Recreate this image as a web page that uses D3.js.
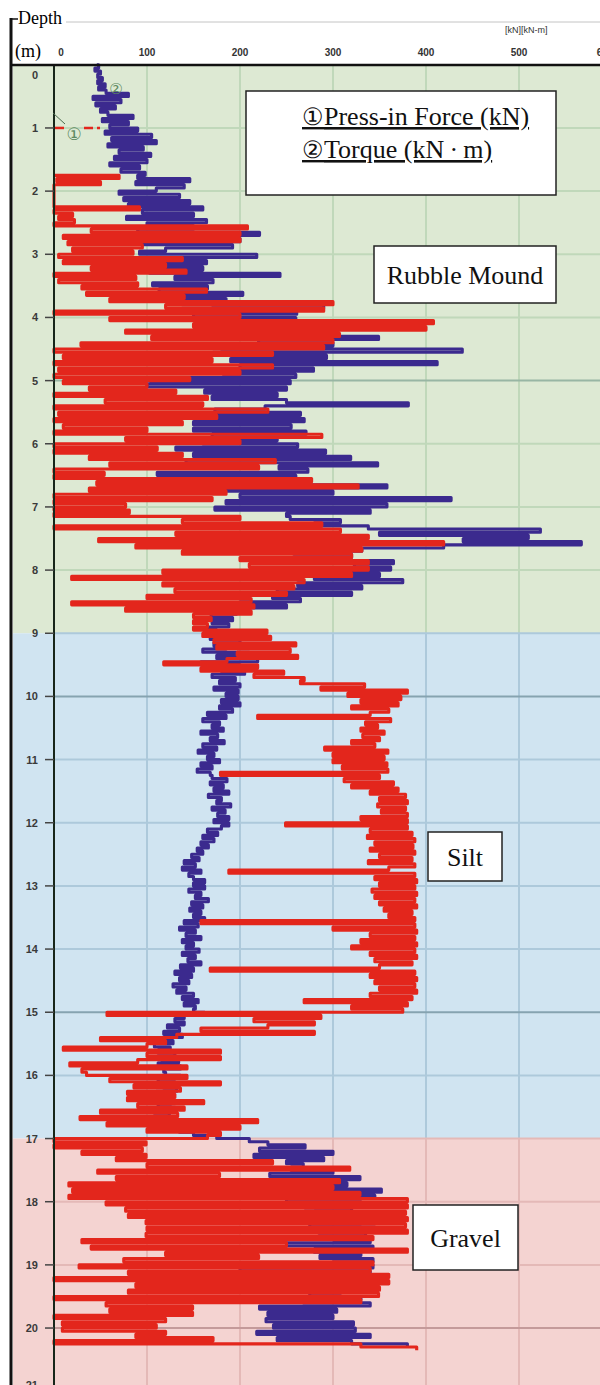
<!DOCTYPE html>
<html>
<head>
<meta charset="utf-8">
<script src="https://cdn.jsdelivr.net/npm/d3@7"></script>
<style>
body{margin:0;background:#fff}
svg text{font-family:"Liberation Serif","Times New Roman",serif}
</style>
</head>
<body>
<div id="chart"></div>
<script>
var width = 600
var height = 1385

// depth sampling of the logger traces (m)
var depthStep = 0.05
var torqueStart = 0
var forceStart = 1.75

// (2) torque, kN*m, one row per metre
var torque = [
 46,48,44,50,47,52,47,55,48,56,80,42,72,45,66,50,58,85,52,80,
 60,90,55,105,62,110,58,96,70,104,65,100,60,92,72,98,90,146,88,140,
 110,70,135,75,146,80,160,95,150,78,164,100,150,90,221,110,200,95,192,120,
 92,218,120,164,100,160,103,243,130,171,106,165,113,203,140,185,138,290,170,261,
 150,260,333,210,300,230,290,349,220,300,180,439,171,293,190,412,200,279,182,260,
 103,254,100,250,162,240,170,250,381,227,173,265,142,269,150,255,150,271,170,240,
 160,262,131,292,150,319,142,348,242,273,111,260,150,265,358,185,300,200,427,185,
 358,173,340,250,254,308,280,338,523,350,510,440,567,419,331,258,320,270,365,323,
 362,273,350,280,375,262,331,240,320,235,265,200,250,205,196,169,192,170,188,165,
 175,195,168,200,172,185,160,210,175,219,158,200,180,205,170,195,178,200,172,198,
 185,198,180,200,178,192,165,185,160,178,170,182,158,176,168,183,160,175,155,172,
 165,178,158,170,154,168,170,186,168,182,172,188,166,180,175,190,170,184,176,188,
 172,188,180,165,176,160,172,158,166,154,160,148,156,140,152,138,158,145,150,162,
 150,162,145,158,152,166,148,160,146,158,150,162,140,155,135,152,142,158,138,150,
 142,156,138,152,144,158,136,150,130,148,135,145,128,142,132,150,138,155,140,152,
 150,162,140,130,140,122,135,118,138,120,128,108,125,112,130,115,134,112,136,118,
 120,136,112,130,118,132,110,128,115,130,112,126,108,124,112,122,129,140,135,150,
 175,210,230,270,221,300,215,290,250,268,255,300,232,329,240,315,272,352,280,345,
 250,330,270,320,280,340,290,330,275,345,285,335,300,340,250,343,280,330,286,343,
 300,343,200,340,215,335,280,310,261,308,275,330,268,340,221,304,230,300,228,322,
 236,324,218,340,240,320,380
]

// (1) press-in force, kN, starts at 1.75 m
var force = [
 0,70,3,50,0,
 0,0,0,0,0,0,92,0,20,5,22,0,208,40,200,10,200,15,95,20,
 85,5,138,10,120,40,142,0,88,5,90,30,164,35,140,60,300,120,290,0,
 200,60,408,150,400,77,307,105,300,29,290,0,235,10,170,0,235,5,200,0,
 146,10,100,38,131,0,165,55,160,0,230,5,175,0,138,10,100,0,288,77,
 200,0,111,0,138,38,238,60,220,0,54,0,277,46,327,38,185,0,170,0,
 77,0,81,0,200,138,288,0,308,131,338,48,419,88,331,138,320,200,338,210,
 338,117,320,19,269,117,258,130,250,100,212,19,215,77,212,150,169,150,165,150,
 229,160,233,172,260,175,254,197,262,186,118,219,158,247,215,269,265,334,287,380,
 316,373,330,370,320,360,340,219,362,335,348,330,355,332,350,320,345,291,359,300,
 355,300,358,310,359,179,350,312,365,320,370,340,378,350,380,348,378,352,380,330,
 380,249,380,340,385,337,388,345,386,340,388,350,385,338,388,360,188,388,345,390,
 350,388,342,390,345,388,350,390,355,385,360,388,158,388,300,390,340,388,330,390,
 320,388,340,390,345,385,350,168,388,340,390,345,388,350,390,340,385,269,380,320,
 375,57,287,215,280,230,158,280,132,50,120,100,10,179,100,179,90,17,143,30,
 35,143,60,179,86,136,79,130,79,161,90,140,50,133,28,219,57,200,100,179,
 165,0,99,0,95,30,99,67,235,100,318,47,178,67,307,16,300,20,329,16,
 380,56,380,77,378,80,380,99,378,100,380,99,343,30,250,40,380,120,220,75,
 343,27,340,80,360,0,360,88,350,80,349,0,330,56,149,60,149,0,120,9,
 110,9,120,88,171,0,330,390
]

var layerNames = ["Rubble Mound","Silt","Gravel"]
var layerTops = [0,9,17]
var layerBottoms = [9,17,21]
var xTicks = [0,100,200,300,400,500,600]
var depthTicks = [0,1,2,3,4,5,6,7,8,9,10,11,12,13,14,15,16,17,18,19,20,21]

var bandFill = ["#dde9d3","#d0e4f1","#f4d3d1"]
var gridColor = ["#c0d8ba","#adc9db","#e4b9b7"]
var majorColor = ["#98b6a4","#86a3b0","#c49a9a"]

var left = 13, axisX = 54

var x = d3.scaleLinear().domain([0,600]).range([axisX,612])
var y = d3.scaleLinear().domain([0,21]).range([64.8,1391.2])

var svg = d3.select("#chart").append("svg")
.attr("width",width)
.attr("height",height)

// soil layers
layerNames.forEach(function(name,i){
  var top = Math.max(y(layerTops[i]),65)
  var bot = y(layerBottoms[i])
  svg.append("rect")
  .attr("x",left).attr("y",top)
  .attr("width",width-left).attr("height",bot-top)
  .attr("fill",bandFill[i])
  // vertical grid inside this layer
  svg.selectAll(null)
  .data(xTicks.slice(1))
  .enter().append("line")
  .attr("x1",d=>x(d)).attr("x2",d=>x(d))
  .attr("y1",top).attr("y2",bot)
  .attr("stroke",gridColor[i]).attr("stroke-width",2)
})

function layerOf(d){
  if(d<9) return 0
  if(d<17) return 1
  return 2
}

svg.selectAll(".hgrid")
.data(depthTicks.filter(d=>d>0))
.enter().append("line")
.attr("class","hgrid")
.attr("x1",axisX).attr("x2",width)
.attr("y1",d=>y(d)).attr("y2",d=>y(d))
.attr("stroke",d=>d%5==0 ? majorColor[layerOf(d-0.01)] : gridColor[layerOf(d)])
.attr("stroke-width",2)

// traces
var line = d3.line()
.x(d=>x(d[0]))
.y(d=>y(d[1]))
.curve(d3.curveStepAfter)

var torquePts = torque.map((v,i)=>[v, torqueStart + i*depthStep])
var forcePts = force.map((v,i)=>[v, forceStart + i*depthStep])

svg.append("path")
.attr("d",line(torquePts))
.attr("fill","none")
.attr("stroke","#3b2a8e")
.attr("stroke-width",3.1)
.attr("stroke-linejoin","round")

svg.append("path")
.attr("d",line(forcePts))
.attr("fill","none")
.attr("stroke","#e3261c")
.attr("stroke-width",3.1)
.attr("stroke-linejoin","round")

// depth axis
svg.append("line")
.attr("x1",axisX).attr("x2",axisX)
.attr("y1",65).attr("y2",height)
.attr("stroke","#17261a").attr("stroke-width",2)

svg.selectAll(".tick")
.data(depthTicks.filter(d=>d>0))
.enter().append("line")
.attr("x1",45).attr("x2",axisX)
.attr("y1",d=>y(d)).attr("y2",d=>y(d))
.attr("stroke","#444").attr("stroke-width",1.5)

svg.selectAll(".dlab")
.data(depthTicks)
.enter().append("text")
.attr("x",38)
.attr("y",d=>d==0 ? 79 : Math.min(y(d)+4,1389))
.attr("text-anchor","end")
.style("font-family","'Liberation Sans',Arial,sans-serif")
.style("font-weight","bold")
.style("font-size","11px")
.attr("fill","#3a3a3a")
.text(d=>d)

// value labels on top
svg.selectAll(".xlab")
.data(xTicks)
.enter().append("text")
.attr("x",d=>d==0 ? 61 : Math.min(x(d),605))
.attr("y",56)
.attr("text-anchor","middle")
.style("font-family","'Liberation Sans',Arial,sans-serif")
.style("font-weight","bold")
.style("font-size","10px")
.attr("fill","#333")
.text(d=>d)

svg.append("text")
.attr("x",505).attr("y",33)
.style("font-family","'Liberation Sans',Arial,sans-serif")
.style("font-size","9px")
.attr("fill","#333")
.text("[kN][kN-m]")

svg.append("text").attr("x",18).attr("y",24)
.style("font-size","18px").text("Depth")
svg.append("text").attr("x",15).attr("y",57)
.style("font-size","18px").text("(m)")

// frame
svg.append("line").attr("x1",66).attr("x2",width).attr("y1",22).attr("y2",22)
.attr("stroke","#c4c4c4").attr("stroke-width",1)
svg.append("line").attr("x1",10).attr("x2",width).attr("y1",65).attr("y2",65)
.attr("stroke","#111").attr("stroke-width",2.5)
svg.append("line").attr("x1",11).attr("x2",11).attr("y1",18).attr("y2",height)
.attr("stroke","#111").attr("stroke-width",3)
svg.append("line").attr("x1",10).attr("x2",18).attr("y1",19).attr("y2",19)
.attr("stroke","#111").attr("stroke-width",1.5)

// trace markers
svg.append("line").attr("x1",axisX+1).attr("x2",66).attr("y1",y(1)).attr("y2",y(1))
.attr("stroke","#e3261c").attr("stroke-width",2.5).attr("stroke-dasharray","9,3")
svg.append("line").attr("x1",84).attr("x2",100).attr("y1",y(1)).attr("y2",y(1))
.attr("stroke","#e3261c").attr("stroke-width",2.5).attr("stroke-dasharray","9,4")
svg.append("line").attr("x1",53).attr("x2",65).attr("y1",113).attr("y2",124)
.attr("stroke","#4b6b4f").attr("stroke-width",1)
svg.append("text").attr("x",74).attr("y",140).attr("text-anchor","middle")
.style("font-family","'DejaVu Sans',sans-serif").style("font-size","17px")
.attr("fill","#5f8a62").text("①")
svg.append("text").attr("x",116).attr("y",94).attr("text-anchor","middle")
.style("font-family","'DejaVu Sans',sans-serif").style("font-size","15px")
.attr("fill","#5f8a62").text("②")

// legend box
svg.append("rect").attr("x",246).attr("y",91).attr("width",310).attr("height",104)
.attr("fill","#fff").attr("stroke","#222").attr("stroke-width",1.5)

var leg1 = svg.append("text").attr("x",302).attr("y",125)
.style("font-size","26px").style("text-decoration","underline").attr("fill","#111")
leg1.append("tspan").style("font-size","24px").text("①")
leg1.append("tspan").text("Press-in Force (kN)")

var leg2 = svg.append("text").attr("x",302).attr("y",158)
.style("font-size","26px").style("text-decoration","underline").attr("fill","#111")
leg2.append("tspan").style("font-size","24px").text("②")
leg2.append("tspan").text("Torque (kN\u2009·\u2009m)")

// layer labels
var boxes = [
 {x:374,y:246,w:182,h:57},
 {x:428,y:832,w:74,h:49},
 {x:413,y:1205,w:105,h:65}
]
layerNames.forEach(function(name,i){
  var b = boxes[i]
  svg.append("rect").attr("x",b.x).attr("y",b.y).attr("width",b.w).attr("height",b.h)
  .attr("fill","#fff").attr("stroke","#222").attr("stroke-width",1.5)
  svg.append("text").attr("x",b.x+b.w/2).attr("y",b.y+b.h/2+9)
  .attr("text-anchor","middle")
  .style("font-size","26px").attr("fill","#111").text(name)
})
</script>
</body>
</html>
